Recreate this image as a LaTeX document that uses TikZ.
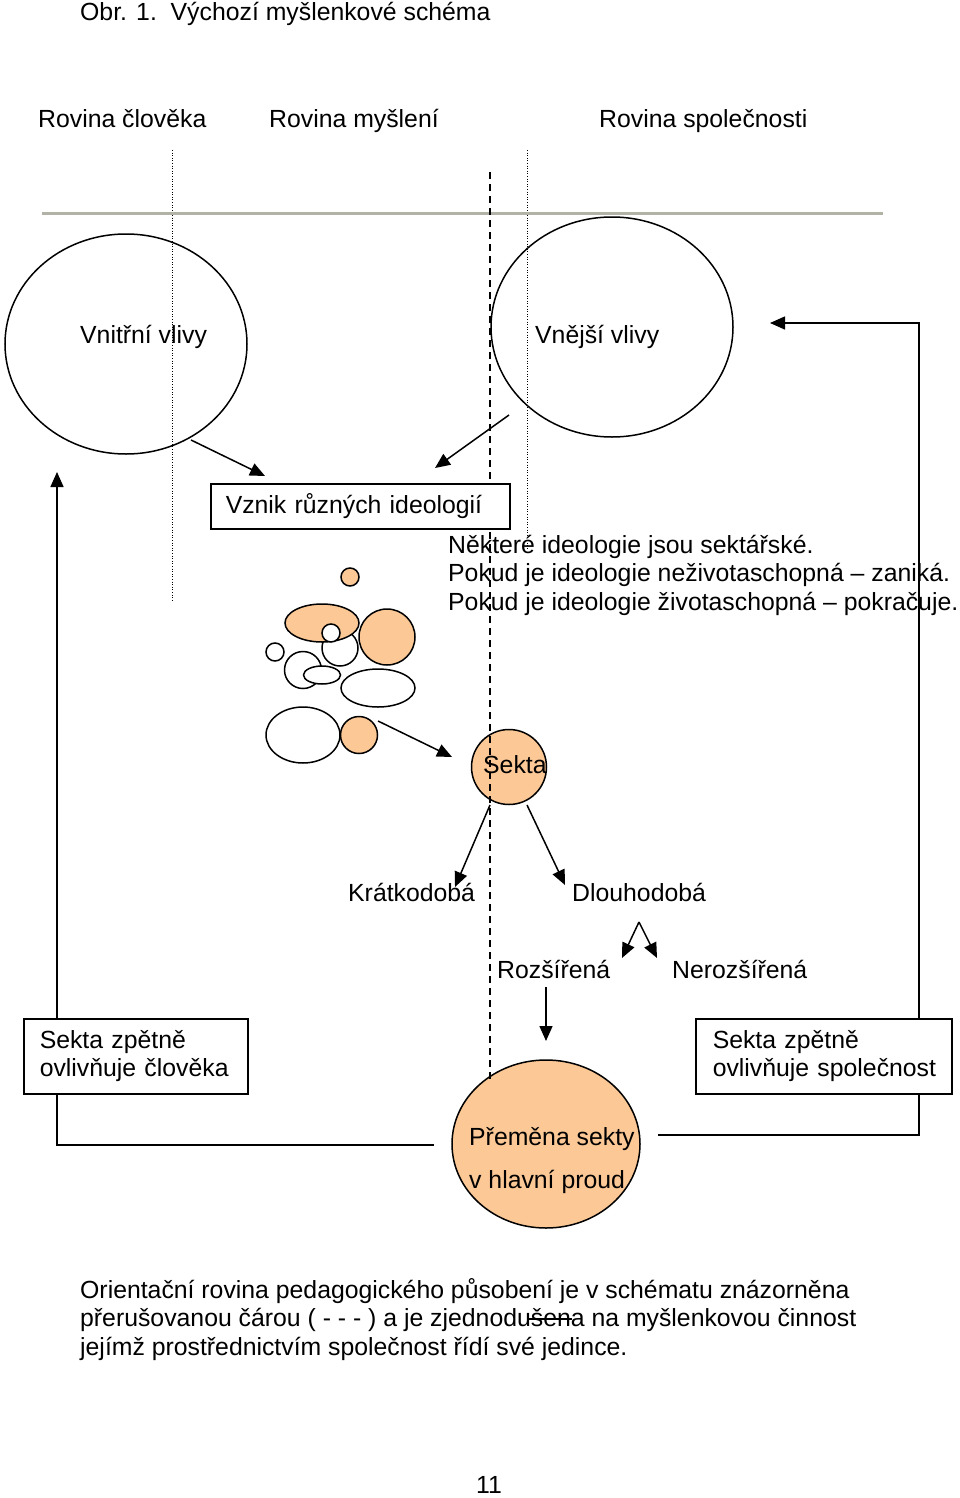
\documentclass[tikz,border=0pt]{standalone}
\usepackage{fontspec}
\setmainfont{Liberation Sans}
\usetikzlibrary{arrows.meta,shapes.geometric}
\definecolor{peach}{RGB}{251,200,150}
\definecolor{rulegray}{RGB}{178,178,166}
\begin{document}
\begin{tikzpicture}[x=1pt,y=-1pt,
  font=\fontsize{24.8}{28.5}\selectfont,
  txt/.style={anchor=base west, inner sep=0pt},
  arr/.style={line width=1.5pt, -{Triangle[length=15pt,width=13pt]}},
  ln/.style={line width=1.5pt},
  shp/.style={draw, line width=1.5pt, ellipse, inner sep=0pt},
  wshp/.style={shp, fill=white},
  oshp/.style={shp, fill=peach},
  boxst/.style={draw, line width=1.5pt, fill=white, rectangle, anchor=north west, align=left},
  dotl/.style={line width=0.8pt, dash pattern=on 1pt off 1.6pt},
  dashl/.style={line width=1.4pt, dash pattern=on 7pt off 5pt}]
\useasboundingbox (0,0) rectangle (960,1498);

% title and plane headings
\node[txt] (title) at (80,21) {Obr. 1.\ \ Výchozí myšlenkové schéma};
\node[txt] (h1) at (38,128) {Rovina člověka};
\node[txt] (h2) at (269,128) {Rovina myšlení};
\node[txt] (h3) at (599,128) {Rovina společnosti};

% dotted plane separators and grey rule
\coordinate (d1t) at (172,150); \coordinate (d1b) at (172,600);
\coordinate (d2t) at (527,150); \coordinate (d2b) at (527,548);
\draw[dotl] (d1t) -- (d1b);
\draw[dotl] (d2t) -- (d2b);
\coordinate (rl) at (42,213); \coordinate (rr) at (883,213);
\draw[rulegray, line width=3pt] (rl) -- (rr);

% big circles
\node[shp, minimum width=242pt, minimum height=220pt] (vnitrni) at (126,344) {};
\node[shp, minimum width=242pt, minimum height=220pt] (vnejsi) at (612,327) {};
\node[txt] (tvnitrni) at (80,343) {Vnitřní vlivy};
\node[txt] (tvnejsi) at (535,343) {Vnější vlivy};

% small ideology shapes
\node[wshp, minimum width=36pt, minimum height=36pt] (s1) at (340,648) {};
\node[oshp, minimum width=74pt, minimum height=38pt] (s2) at (322,623) {};
\node[wshp, minimum width=18pt, minimum height=18pt] (s3) at (331,633) {};
\node[oshp, minimum width=18pt, minimum height=18pt] (s4) at (350,577) {};
\node[oshp, minimum width=56pt, minimum height=56pt] (s5) at (387,637) {};
\node[wshp, minimum width=18pt, minimum height=18pt] (s6) at (275,652) {};
\node[wshp, minimum width=37pt, minimum height=37pt] (s7) at (303,670) {};
\node[wshp, minimum width=37pt, minimum height=18pt] (s8) at (322,675) {};
\node[wshp, minimum width=74pt, minimum height=38pt] (s9) at (378,688) {};
\node[wshp, minimum width=74pt, minimum height=56pt] (s10) at (303,735) {};
\node[oshp, minimum width=37pt, minimum height=37pt] (s11) at (359,735) {};

% Sekta and Přeměna circles
\node[oshp, minimum width=75pt, minimum height=75pt] (sekta) at (509,767) {};
\node[oshp, minimum width=188pt, minimum height=168pt] (premena) at (546,1144) {};

% feedback lines
\coordinate (lf1) at (434,1145); \coordinate (lf2) at (57,1145); \coordinate (lf3) at (57,472);
\draw[arr] (lf1) -- (lf2) -- (lf3);
\coordinate (rf1) at (658,1135); \coordinate (rf2) at (919,1135);
\coordinate (rf3) at (919,323); \coordinate (rf4) at (770,323);
\draw[arr] (rf1) -- (rf2) -- (rf3) -- (rf4);

% dashed orientation line
\coordinate (dt) at (490,172); \coordinate (db) at (490,1082);
\draw[dashl] (dt) -- (db);

% boxes
\node[boxst, minimum width=299pt, minimum height=45pt, text width=269pt, inner xsep=15pt, inner ysep=0pt] (vznik) at (210,483) {Vznik různých ideologií};
\node[boxst, minimum width=224pt, minimum height=75pt, text width=192pt, inner xsep=16pt, inner ysep=0pt] (bl) at (23,1018) {Sekta zpětně\\ovlivňuje člověka};
\node[boxst, minimum width=256pt, minimum height=75pt, text width=226pt, inner xsep=15pt, inner ysep=0pt] (br) at (695,1018) {\hspace*{2pt}Sekta zpětně\\\hspace*{2pt}ovlivňuje společnost};

% texts
\node[txt] (n1) at (448,553) {Některé ideologie jsou sektářské.};
\node[txt] (n2) at (448,581) {Pokud je ideologie neživotaschopná – zaniká.};
\node[txt] (n3) at (448,610) {Pokud je ideologie životaschopná – pokračuje.};
\node[txt] (tsekta) at (483,773) {Sekta};
\node[txt] (kratko) at (348,901) {Krátkodobá};
\node[txt] (dlouho) at (572,901) {Dlouhodobá};
\node[txt] (rozs) at (497,978) {Rozšířená};
\node[txt] (neroz) at (672,978) {Nerozšířená};
\node[txt] (tp1) at (469,1145) {Přeměna sekty};
\node[txt] (tp2) at (469,1188) {v hlavní proud};

% arrows
\coordinate (a1s) at (191,440); \coordinate (a1e) at (265,476);
\coordinate (a2s) at (509,415); \coordinate (a2e) at (435,468);
\coordinate (a3s) at (378,721); \coordinate (a3e) at (452,757);
\coordinate (a4s) at (490,805); \coordinate (a4e) at (455,887);
\coordinate (a5s) at (527,805); \coordinate (a5e) at (565,885);
\coordinate (fork) at (639,922); \coordinate (fl) at (622,958); \coordinate (fr) at (657,958);
\coordinate (a6s) at (546,987); \coordinate (a6e) at (546,1041);
\draw[arr] (a1s) -- (a1e);
\draw[arr] (a2s) -- (a2e);
\draw[arr] (a3s) -- (a3e);
\draw[arr] (a4s) -- (a4e);
\draw[arr] (a5s) -- (a5e);
\draw[arr] (fork) -- (fl);
\draw[arr] (fork) -- (fr);
\draw[arr] (a6s) -- (a6e);

% bottom note
\node[txt] (b1) at (80,1298) {Orientační rovina pedagogického působení je v schématu znázorněna};
\node[txt] (b2) at (80,1326) {přerušovanou čárou ( - - - ) a je zjednodušena na myšlenkovou činnost};
\node[txt] (b3) at (80,1355) {jejímž prostřednictvím společnost řídí své jedince.};
\coordinate (st1) at (528,1319); \coordinate (st2) at (572,1319);
\draw[line width=1.2pt] (st1) -- (st2);

\node[txt] (page) at (476,1493) {11};
\end{tikzpicture}
\end{document}
